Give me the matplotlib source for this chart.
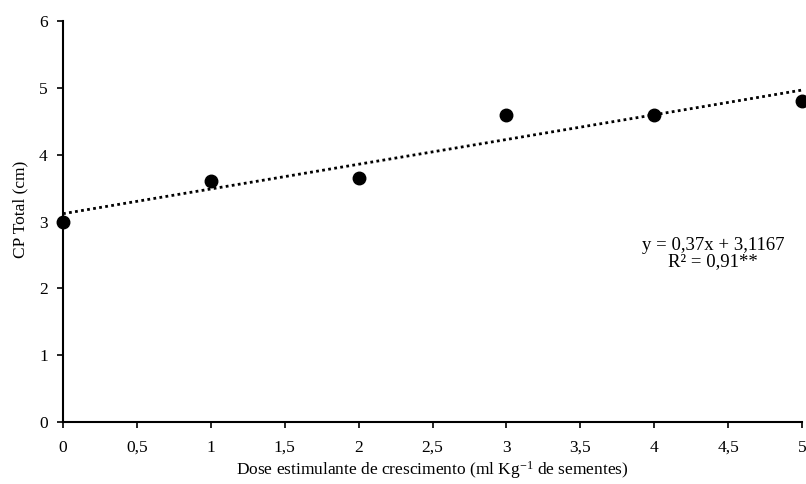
import matplotlib
matplotlib.use("Agg")
import matplotlib.pyplot as plt
import numpy as np

plt.rcParams['font.family'] = ['Liberation Serif', 'DejaVu Serif']
plt.rcParams['mathtext.fontset'] = 'custom'
plt.rcParams['mathtext.rm'] = 'Liberation Serif'
plt.rcParams['mathtext.it'] = 'Liberation Serif:italic'

dose = [0, 1, 2, 3, 4, 5]
cp_total = [3.0, 3.6, 3.65, 4.6, 4.6, 4.8]
xticks = [0, 0.5, 1, 1.5, 2, 2.5, 3, 3.5, 4, 4.5, 5]
xtick_labels = ["0", "0,5", "1", "1,5", "2", "2,5", "3", "3,5", "4", "4,5", "5"]
yticks = [0, 1, 2, 3, 4, 5, 6]

W, H = 806, 484
fig = plt.figure(figsize=(W/100, H/100), dpi=100)
ax = fig.add_axes([63/W, 1 - 422/H, (802-63)/W, (422-21)/H])

slope, intercept = np.polyfit(dose, cp_total, 1)
xl = np.array([dose[0], dose[-1]])
ax.plot(xl, slope*xl + intercept, color='black', linestyle=(0, (1, 1.2)), lw=2.0, zorder=2)
ax.plot(dose, cp_total, 'o', color='black', ms=9, zorder=3, clip_on=False)

ax.set_xlim(0, 5)
ax.set_ylim(0, 6)
ax.set_xticks(xticks)
ax.set_xticklabels(xtick_labels)
ax.set_yticks(yticks)
for s in ['top', 'right']:
    ax.spines[s].set_visible(False)
for s in ['left', 'bottom']:
    ax.spines[s].set_linewidth(1.5)
ax.tick_params(axis='both', direction='out', length=4, width=1.2, labelsize=12.5, colors='black')
ax.tick_params(axis='y', pad=7)
ax.tick_params(axis='x', pad=9)

ax.set_xlabel("Dose estimulante de crescimento (ml Kg$\\mathregular{^{-1}}$ de sementes)", fontsize=12.5, labelpad=2)
ax.set_ylabel("CP Total (cm)", fontsize=12.5)
ax.yaxis.set_label_coords(-0.047, 0.53)

ax.text(0.88, 0.42, "y = 0,37x + 3,1167\nR² = 0,91**", transform=ax.transAxes,
        ha='center', va='center', fontsize=13.5, linespacing=0.95)

fig.savefig("out.png", dpi=100)
